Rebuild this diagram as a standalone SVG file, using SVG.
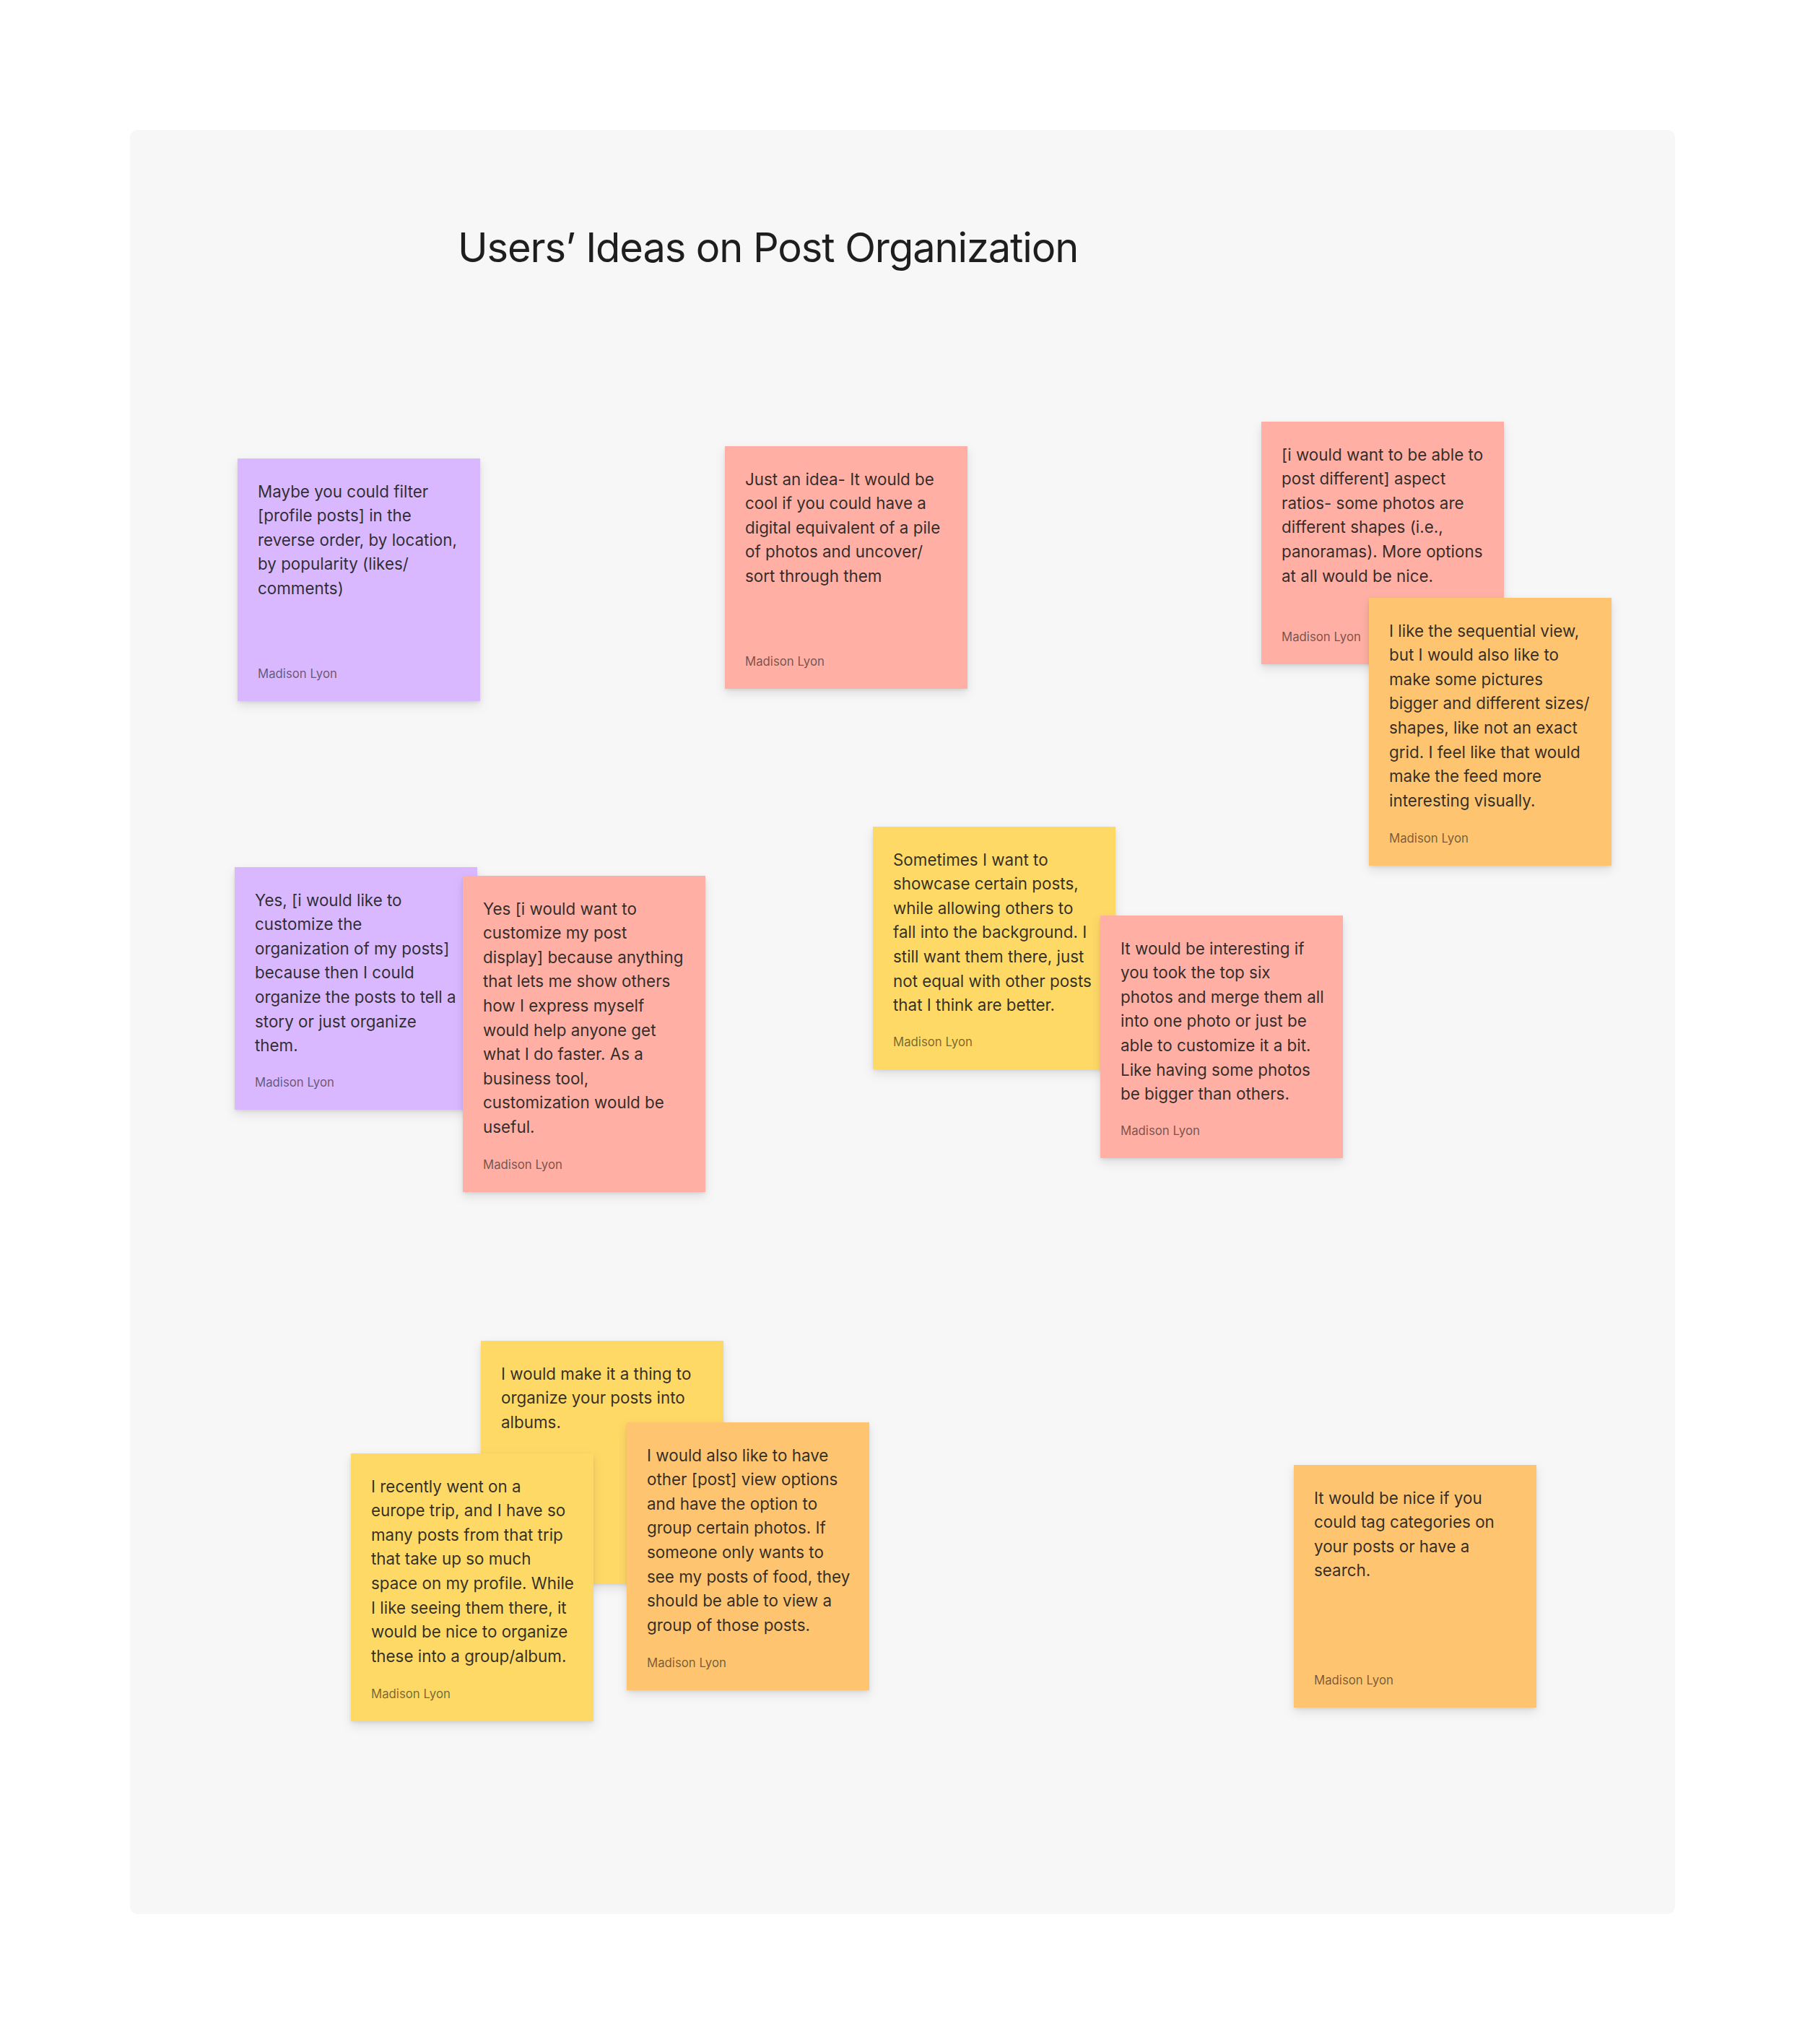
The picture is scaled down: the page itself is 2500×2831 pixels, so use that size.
<svg xmlns="http://www.w3.org/2000/svg" width="2500" height="2831" viewBox="0 0 2500 2831">
<defs>
<style>
.body{font-family:Inter,"Noto Sans","Liberation Sans",sans-serif;font-size:22.4px;fill:#1e1e1e;fill-opacity:0.92}
.author{font-family:Inter,"Noto Sans","Liberation Sans",sans-serif;font-size:16.8px;fill:#000;fill-opacity:0.55}
.title{font-family:Inter,"Noto Sans","Liberation Sans",sans-serif;font-size:56px;fill:#1e1e1e;letter-spacing:-1.1px}
.violet{fill:#d9b8ff}
.red{fill:#ffafa3}
.yellow{fill:#ffd966}
.orange{fill:#ffc470}
.note{filter:url(#sh)}
</style>
<filter id="sh" x="-20%" y="-20%" width="140%" height="150%">
<feDropShadow dx="0" dy="2" stdDeviation="2" flood-color="#000" flood-opacity="0.08"/>
<feDropShadow dx="0" dy="6" stdDeviation="7" flood-color="#000" flood-opacity="0.10"/>
</filter>
</defs>
<rect x="0" y="0" width="2500" height="2831" fill="#ffffff"/>
<rect id="panel" x="180" y="180" width="2140" height="2471" rx="10" fill="#f7f7f7"/>
<text id="title" class="title" x="634" y="363">Users’ Ideas on Post Organization</text>

<g id="note1">
<rect class="note violet" x="329" y="635" width="336" height="336"/>
<text class="body"><tspan x="357" y="688.5">Maybe you could filter</tspan><tspan x="357" y="722.1">[profile posts] in the</tspan><tspan x="357" y="755.7">reverse order, by location,</tspan><tspan x="357" y="789.3">by popularity (likes/</tspan><tspan x="357" y="822.9">comments)</tspan></text>
<text class="author" x="357" y="938.5">Madison Lyon</text>
</g>

<g id="note2">
<rect class="note red" x="1004" y="618" width="336" height="336"/>
<text class="body"><tspan x="1032" y="671.5">Just an idea- It would be</tspan><tspan x="1032" y="705.1">cool if you could have a</tspan><tspan x="1032" y="738.7">digital equivalent of a pile</tspan><tspan x="1032" y="772.3">of photos and uncover/</tspan><tspan x="1032" y="805.9">sort through them</tspan></text>
<text class="author" x="1032" y="921.5">Madison Lyon</text>
</g>

<g id="note3">
<rect class="note red" x="1747" y="584" width="336" height="336"/>
<text class="body"><tspan x="1775" y="637.5">[i would want to be able to</tspan><tspan x="1775" y="671.1">post different] aspect</tspan><tspan x="1775" y="704.7">ratios- some photos are</tspan><tspan x="1775" y="738.3">different shapes (i.e.,</tspan><tspan x="1775" y="771.9">panoramas). More options</tspan><tspan x="1775" y="805.5">at all would be nice.</tspan></text>
<text class="author" x="1775" y="887.5">Madison Lyon</text>
</g>

<g id="note4">
<rect class="note orange" x="1896" y="828" width="336" height="371"/>
<text class="body"><tspan x="1924" y="881.5">I like the sequential view,</tspan><tspan x="1924" y="915.1">but I would also like to</tspan><tspan x="1924" y="948.7">make some pictures</tspan><tspan x="1924" y="982.3">bigger and different sizes/</tspan><tspan x="1924" y="1015.9">shapes, like not an exact</tspan><tspan x="1924" y="1049.5">grid. I feel like that would</tspan><tspan x="1924" y="1083.1">make the feed more</tspan><tspan x="1924" y="1116.7">interesting visually.</tspan></text>
<text class="author" x="1924" y="1166.5">Madison Lyon</text>
</g>

<g id="note5">
<rect class="note violet" x="325" y="1201" width="336" height="336"/>
<text class="body"><tspan x="353" y="1254.5">Yes, [i would like to</tspan><tspan x="353" y="1288.1">customize the</tspan><tspan x="353" y="1321.7">organization of my posts]</tspan><tspan x="353" y="1355.3">because then I could</tspan><tspan x="353" y="1388.9">organize the posts to tell a</tspan><tspan x="353" y="1422.5">story or just organize</tspan><tspan x="353" y="1456.1">them.</tspan></text>
<text class="author" x="353" y="1504.5">Madison Lyon</text>
</g>

<g id="note6">
<rect class="note red" x="641" y="1213" width="336" height="438"/>
<text class="body"><tspan x="669" y="1266.5">Yes [i would want to</tspan><tspan x="669" y="1300.1">customize my post</tspan><tspan x="669" y="1333.7">display] because anything</tspan><tspan x="669" y="1367.3">that lets me show others</tspan><tspan x="669" y="1400.9">how I express myself</tspan><tspan x="669" y="1434.5">would help anyone get</tspan><tspan x="669" y="1468.1">what I do faster. As a</tspan><tspan x="669" y="1501.7">business tool,</tspan><tspan x="669" y="1535.3">customization would be</tspan><tspan x="669" y="1568.9">useful.</tspan></text>
<text class="author" x="669" y="1618.5">Madison Lyon</text>
</g>

<g id="note7">
<rect class="note yellow" x="1209" y="1145" width="336" height="336"/>
<text class="body"><tspan x="1237" y="1198.5">Sometimes I want to</tspan><tspan x="1237" y="1232.1">showcase certain posts,</tspan><tspan x="1237" y="1265.7">while allowing others to</tspan><tspan x="1237" y="1299.3">fall into the background. I</tspan><tspan x="1237" y="1332.9">still want them there, just</tspan><tspan x="1237" y="1366.5">not equal with other posts</tspan><tspan x="1237" y="1400.1">that I think are better.</tspan></text>
<text class="author" x="1237" y="1448.5">Madison Lyon</text>
</g>

<g id="note8">
<rect class="note red" x="1524" y="1268" width="336" height="336"/>
<text class="body"><tspan x="1552" y="1321.5">It would be interesting if</tspan><tspan x="1552" y="1355.1">you took the top six</tspan><tspan x="1552" y="1388.7">photos and merge them all</tspan><tspan x="1552" y="1422.3">into one photo or just be</tspan><tspan x="1552" y="1455.9">able to customize it a bit.</tspan><tspan x="1552" y="1489.5">Like having some photos</tspan><tspan x="1552" y="1523.1">be bigger than others.</tspan></text>
<text class="author" x="1552" y="1571.5">Madison Lyon</text>
</g>

<g id="note9">
<rect class="note yellow" x="666" y="1857" width="336" height="336"/>
<text class="body"><tspan x="694" y="1910.5">I would make it a thing to</tspan><tspan x="694" y="1944.1">organize your posts into</tspan><tspan x="694" y="1977.7">albums.</tspan></text>
</g>

<g id="note10">
<rect class="note orange" x="868" y="1970" width="336" height="371"/>
<text class="body"><tspan x="896" y="2023.5">I would also like to have</tspan><tspan x="896" y="2057.1">other [post] view options</tspan><tspan x="896" y="2090.7">and have the option to</tspan><tspan x="896" y="2124.3">group certain photos. If</tspan><tspan x="896" y="2157.9">someone only wants to</tspan><tspan x="896" y="2191.5">see my posts of food, they</tspan><tspan x="896" y="2225.1">should be able to view a</tspan><tspan x="896" y="2258.7">group of those posts.</tspan></text>
<text class="author" x="896" y="2308.5">Madison Lyon</text>
</g>

<g id="note11">
<rect class="note yellow" x="486" y="2013" width="336" height="371"/>
<text class="body"><tspan x="514" y="2066.5">I recently went on a</tspan><tspan x="514" y="2100.1">europe trip, and I have so</tspan><tspan x="514" y="2133.7">many posts from that trip</tspan><tspan x="514" y="2167.3">that take up so much</tspan><tspan x="514" y="2200.9">space on my profile. While</tspan><tspan x="514" y="2234.5">I like seeing them there, it</tspan><tspan x="514" y="2268.1">would be nice to organize</tspan><tspan x="514" y="2301.7">these into a group/album.</tspan></text>
<text class="author" x="514" y="2351.5">Madison Lyon</text>
</g>

<g id="note12">
<rect class="note orange" x="1792" y="2029" width="336" height="336"/>
<text class="body"><tspan x="1820" y="2082.5">It would be nice if you</tspan><tspan x="1820" y="2116.1">could tag categories on</tspan><tspan x="1820" y="2149.7">your posts or have a</tspan><tspan x="1820" y="2183.3">search.</tspan></text>
<text class="author" x="1820" y="2332.5">Madison Lyon</text>
</g>

<g id="connectors"></g>
</svg>
